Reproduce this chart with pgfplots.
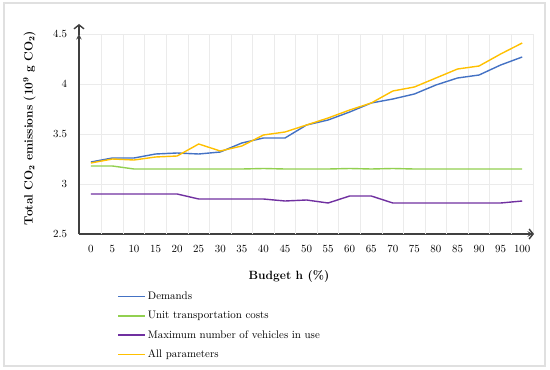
\documentclass[11pt,border=0pt]{standalone}
\usepackage{pgfplots}
\pgfplotsset{compat=1.18}
\usetikzlibrary{arrows.meta}
\definecolor{cblue}{HTML}{4472C4}
\definecolor{cgreen}{HTML}{92D050}
\definecolor{cpurple}{HTML}{7030A0}
\definecolor{cyellow}{HTML}{FFC000}
\definecolor{gridc}{HTML}{EBEBEB}
\definecolor{axc}{HTML}{404040}
\begin{document}
\begin{tikzpicture}
\begin{axis}[
  scale only axis, width=454bp, height=200bp,
  xmin=-2.75, xmax=102.5, ymin=2.5, ymax=4.5,
  axis lines=left,
  axis line style={line width=1.4bp, draw=axc},
  xtick={0,5,...,100},
  ytick={2.5,3,3.5,4,4.5},
  extra x ticks={2.5,7.5,12.5,17.5,22.5,27.5,32.5,37.5,42.5,47.5,52.5,57.5,62.5,67.5,72.5,77.5,82.5,87.5,92.5,97.5,102.5},
  extra x tick labels={},
  extra x tick style={grid=major},
  tick style={draw=none},
  ymajorgrids,
  major grid style={gridc, line width=0.8bp},
  yticklabel style={xshift=-6bp},
  xticklabel style={yshift=-6bp},
  xlabel={Budget h (\%)},
  ylabel={Total CO$_{\mathbf{2}}$ emissions (10$^{\mathbf{9}}$ g CO$_{\mathbf{2}}$)},
  xlabel style={font=\large\bfseries, yshift=-6bp, xshift=-17bp},
  ylabel style={font=\large\bfseries, yshift=10bp, xshift=6bp},
  legend style={draw=none, at={(0.078,-0.27)}, anchor=north west, row sep=6bp},
  legend cell align=left,
  legend image code/.code={\draw[#1, line width=1.4bp] (0cm,0cm) -- (0.95cm,0cm);},
  every axis plot/.append style={line width=1.4bp},
]
\addplot[cblue] coordinates {(0,3.22)(5,3.26)(10,3.26)(15,3.30)(20,3.31)(25,3.30)(30,3.32)(35,3.41)(40,3.46)(45,3.46)(50,3.59)(55,3.64)(60,3.72)(65,3.81)(70,3.85)(75,3.90)(80,3.99)(85,4.06)(90,4.09)(95,4.19)(100,4.27)};
\addlegendentry{Demands}
\addplot[cgreen] coordinates {(0,3.18)(5,3.18)(10,3.15)(15,3.15)(20,3.15)(25,3.15)(30,3.15)(35,3.15)(40,3.155)(45,3.15)(50,3.15)(55,3.15)(60,3.155)(65,3.15)(70,3.155)(75,3.15)(80,3.15)(85,3.15)(90,3.15)(95,3.15)(100,3.15)};
\addlegendentry{Unit transportation costs}
\addplot[cpurple] coordinates {(0,2.90)(5,2.90)(10,2.90)(15,2.90)(20,2.90)(25,2.85)(30,2.85)(35,2.85)(40,2.85)(45,2.83)(50,2.84)(55,2.81)(60,2.88)(65,2.88)(70,2.81)(75,2.81)(80,2.81)(85,2.81)(90,2.81)(95,2.81)(100,2.83)};
\addlegendentry{Maximum number of vehicles in use}
\addplot[cyellow] coordinates {(0,3.21)(5,3.25)(10,3.24)(15,3.27)(20,3.28)(25,3.40)(30,3.33)(35,3.38)(40,3.49)(45,3.52)(50,3.59)(55,3.66)(60,3.74)(65,3.81)(70,3.93)(75,3.97)(80,4.06)(85,4.15)(90,4.18)(95,4.30)(100,4.41)};
\addlegendentry{All parameters}
\end{axis}
\draw[axc, line width=1.4bp, -{Straight Barb[length=4bp,width=10bp]}] (0bp,199bp) -- (0bp,210bp);
\draw[axc, line width=1.4bp, -{Straight Barb[length=4bp,width=10bp]}] (450bp,0bp) -- (455bp,0bp);
\draw[black!12, line width=1.4bp] (-75bp,231bp) rectangle (466bp,-132bp);
\pgfresetboundingbox
\path (-79bp,-136bp) rectangle (471bp,234bp);
\end{tikzpicture}
\end{document}
